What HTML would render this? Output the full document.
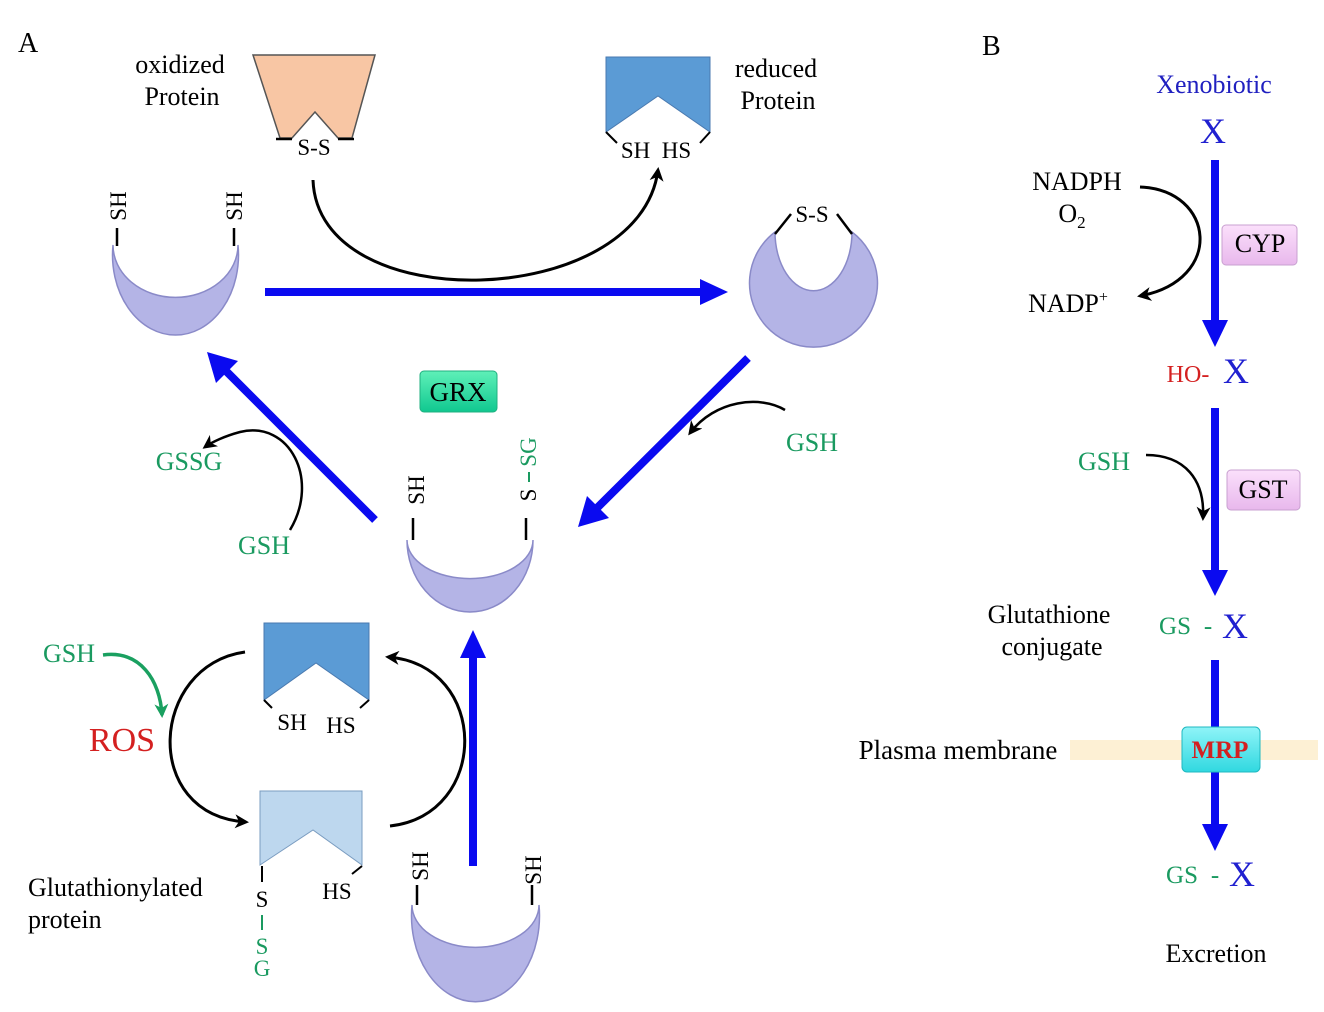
<!DOCTYPE html>
<html><head><meta charset="utf-8"><style>
html,body{margin:0;padding:0;background:#fff;}
svg{display:block;font-family:"Liberation Serif",serif;}
</style></head><body>
<svg width="1324" height="1012" viewBox="0 0 1324 1012" xmlns="http://www.w3.org/2000/svg">
<defs>
<marker id="ab" markerWidth="14" markerHeight="14" refX="11" refY="7" orient="auto" markerUnits="userSpaceOnUse"><path d="M0,0 L14,7 L0,14 L4,7 z" fill="#000"/></marker>
<marker id="ag" markerWidth="14" markerHeight="14" refX="11" refY="7" orient="auto" markerUnits="userSpaceOnUse"><path d="M0,0 L14,7 L0,14 L4,7 z" fill="#1aa060"/></marker>
<linearGradient id="grx" x1="0" y1="0" x2="0" y2="1"><stop offset="0" stop-color="#5ff0b8"/><stop offset="1" stop-color="#10c890"/></linearGradient>
<linearGradient id="pk" x1="0" y1="0" x2="0" y2="1"><stop offset="0" stop-color="#fbe0fb"/><stop offset="1" stop-color="#e8b8ec"/></linearGradient>
<linearGradient id="cy" x1="0" y1="0" x2="0" y2="1"><stop offset="0" stop-color="#8ff4f8"/><stop offset="1" stop-color="#30d8e0"/></linearGradient>
</defs>
<text x="18" y="52" font-size="28">A</text>
<text x="982" y="55" font-size="28">B</text>

<!-- oxidized protein -->
<text x="180" y="73" font-size="26" text-anchor="middle">oxidized</text>
<text x="182" y="105" font-size="26" text-anchor="middle">Protein</text>
<path d="M253,55 L375,55 L352,138 L338,138 L315,112 L292,138 L280,138 Z" fill="#f8c6a4" stroke="#555" stroke-width="1.5"/>
<line x1="276" y1="139" x2="292" y2="139" stroke="#000" stroke-width="2.5"/>
<line x1="338" y1="139" x2="354" y2="139" stroke="#000" stroke-width="2.5"/>
<text x="314" y="155" font-size="23" text-anchor="middle">S-S</text>

<!-- reduced protein -->
<path d="M606,57 L710,57 L710,132 L658,96 L606,132 Z" fill="#5b9bd5" stroke="#4a7ab0" stroke-width="1"/>
<line x1="606" y1="132" x2="617" y2="143" stroke="#000" stroke-width="2"/>
<line x1="710" y1="132" x2="700" y2="143" stroke="#000" stroke-width="2"/>
<text x="656" y="158" font-size="23" text-anchor="middle">SH&#160;&#160;HS</text>
<text x="776" y="77" font-size="26" text-anchor="middle">reduced</text>
<text x="778" y="109" font-size="26" text-anchor="middle">Protein</text>

<!-- black arc top -->
<path d="M313,180 C318,320 640,310 658,170" fill="none" stroke="#000" stroke-width="3" marker-end="url(#ab)"/>

<!-- left crescent -->
<path d="M113,245 A63 80 0 1 0 238,245 A62 52 0 0 1 113,245 Z" fill="#b4b4e6" stroke="#8a8ac8" stroke-width="1.5"/>
<line x1="117" y1="228" x2="117" y2="246" stroke="#000" stroke-width="2.5"/>
<line x1="234" y1="228" x2="234" y2="246" stroke="#000" stroke-width="2.5"/>
<text transform="translate(126,206) rotate(-90)" font-size="23" text-anchor="middle">SH</text>
<text transform="translate(242,206) rotate(-90)" font-size="23" text-anchor="middle">SH</text>

<!-- right crescent -->
<path d="M775,232 A64 64 0 1 0 852,232 A38 58 0 0 1 775,232 Z" fill="#b4b4e6" stroke="#8a8ac8" stroke-width="1.5"/>
<line x1="775" y1="234" x2="791" y2="214" stroke="#000" stroke-width="2.5"/>
<line x1="852" y1="234" x2="837" y2="214" stroke="#000" stroke-width="2.5"/>
<text x="812" y="222" font-size="23" text-anchor="middle">S-S</text>

<!-- blue arrows panel A -->
<line x1="265" y1="292" x2="705" y2="292" stroke="#0a0af0" stroke-width="8"/>
<path d="M700,279 L728,292 L700,305 Z" fill="#0a0af0"/>
<line x1="748" y1="358" x2="595" y2="510" stroke="#0a0af0" stroke-width="8"/>
<path d="M578,527 L587,496 L609,518 Z" fill="#0a0af0"/>
<line x1="375" y1="520" x2="225" y2="370" stroke="#0a0af0" stroke-width="8"/>
<path d="M207,352 L238,361 L216,383 Z" fill="#0a0af0"/>
<line x1="473" y1="866" x2="473" y2="655" stroke="#0a0af0" stroke-width="8"/>
<path d="M460,658 L473,630 L486,658 Z" fill="#0a0af0"/>

<!-- GRX -->
<rect x="420" y="371" width="77" height="41" rx="4" fill="url(#grx)" stroke="#20b080" stroke-width="1"/>
<text x="458" y="401" font-size="27" text-anchor="middle">GRX</text>

<!-- GSH right -->
<path d="M785,410 C760,395 715,400 690,433" fill="none" stroke="#000" stroke-width="2.5" marker-end="url(#ab)"/>
<text x="812" y="451" font-size="26" fill="#1a9a60" text-anchor="middle">GSH</text>
<!-- GSSG -->
<path d="M290,530 C320,480 290,420 240,432 C225,436 212,442 205,447" fill="none" stroke="#000" stroke-width="2.5" marker-end="url(#ab)"/>
<text x="189" y="470" font-size="26" fill="#1a9a60" text-anchor="middle">GSSG</text>
<text x="264" y="554" font-size="26" fill="#1a9a60" text-anchor="middle">GSH</text>

<!-- middle crescent -->
<path d="M407,540 A63 72 0 1 0 533,540 A62 38 0 0 1 407,540 Z" fill="#b4b4e6" stroke="#8a8ac8" stroke-width="1.5"/>
<line x1="413" y1="518" x2="413" y2="540" stroke="#000" stroke-width="2.5"/>
<line x1="526" y1="518" x2="526" y2="540" stroke="#000" stroke-width="2.5"/>
<text transform="translate(424,490) rotate(-90)" font-size="23" text-anchor="middle">SH</text>
<text transform="translate(536,495) rotate(-90)" font-size="23" text-anchor="middle">S</text>
<line x1="529" y1="482" x2="529" y2="472" stroke="#1a9a60" stroke-width="2"/>
<text transform="translate(536,452) rotate(-90)" font-size="23" fill="#1a9a60" text-anchor="middle">SG</text>

<!-- lower proteins -->
<path d="M264,623 L369,623 L369,700 L316,663 L264,700 Z" fill="#5b9bd5" stroke="#4a7ab0" stroke-width="1"/>
<line x1="264" y1="700" x2="272" y2="708" stroke="#000" stroke-width="2"/>
<line x1="369" y1="700" x2="360" y2="708" stroke="#000" stroke-width="2"/>
<text x="292" y="730" font-size="23" text-anchor="middle">SH</text>
<text x="341" y="733" font-size="23" text-anchor="middle">HS</text>

<path d="M260,791 L362,791 L362,865 L313,830 L260,865 Z" fill="#bdd7ee" stroke="#7a9cc0" stroke-width="1"/>
<line x1="262" y1="866" x2="262" y2="882" stroke="#000" stroke-width="2"/>
<line x1="362" y1="866" x2="352" y2="874" stroke="#000" stroke-width="2"/>
<text x="337" y="899" font-size="23" text-anchor="middle">HS</text>
<text x="262" y="907" font-size="23" text-anchor="middle">S</text>
<line x1="262" y1="915" x2="262" y2="930" stroke="#1a9a60" stroke-width="2"/>
<text x="262" y="954" font-size="23" fill="#1a9a60" text-anchor="middle">S</text>
<text x="262" y="976" font-size="23" fill="#1a9a60" text-anchor="middle">G</text>
<text x="28" y="896" font-size="26">Glutathionylated</text>
<text x="28" y="928" font-size="26">protein</text>

<!-- ROS cycle -->
<path d="M245,652 C150,665 140,815 246,822" fill="none" stroke="#000" stroke-width="3" marker-end="url(#ab)"/>
<path d="M390,826 C490,815 490,665 388,657" fill="none" stroke="#000" stroke-width="3" marker-end="url(#ab)"/>
<text x="122" y="751" font-size="34" fill="#d42020" text-anchor="middle">ROS</text>
<text x="69" y="662" font-size="26" fill="#1a9a60" text-anchor="middle">GSH</text>
<path d="M103,655 C140,650 160,680 162,715" fill="none" stroke="#1aa060" stroke-width="3.5" marker-end="url(#ag)"/>

<!-- bottom crescent -->
<path d="M412,905 A64 86 0 1 0 539,905 A63 42 0 0 1 412,905 Z" fill="#b4b4e6" stroke="#8a8ac8" stroke-width="1.5"/>
<line x1="417" y1="885" x2="417" y2="905" stroke="#000" stroke-width="2.5"/>
<line x1="532" y1="885" x2="532" y2="905" stroke="#000" stroke-width="2.5"/>
<text transform="translate(428,866) rotate(-90)" font-size="23" text-anchor="middle">SH</text>
<text transform="translate(541,870) rotate(-90)" font-size="23" text-anchor="middle">SH</text>

<!-- Panel B -->
<text x="1214" y="93" font-size="26" fill="#2020c0" text-anchor="middle">Xenobiotic</text>
<text x="1213" y="143" font-size="36" fill="#2020d0" text-anchor="middle">X</text>
<line x1="1215" y1="160" x2="1215" y2="322" stroke="#0a0af0" stroke-width="8"/>
<path d="M1202,320 L1228,320 L1215,347 Z" fill="#0a0af0"/>
<text x="1077" y="190" font-size="26" text-anchor="middle">NADPH</text>
<text x="1072" y="222" font-size="26" text-anchor="middle">O<tspan font-size="17" dy="6">2</tspan></text>
<text x="1068" y="312" font-size="26" text-anchor="middle">NADP<tspan font-size="16" dy="-10">+</tspan></text>
<path d="M1140,187 C1215,190 1225,280 1140,296" fill="none" stroke="#000" stroke-width="3" marker-end="url(#ab)"/>
<rect x="1222" y="225" width="75" height="40" rx="4" fill="url(#pk)" stroke="#c8a0d0" stroke-width="1"/>
<text x="1260" y="252" font-size="26" text-anchor="middle">CYP</text>

<text x="1188" y="382" font-size="24" fill="#d42020" text-anchor="middle">HO-</text>
<text x="1236" y="383" font-size="36" fill="#2020d0" text-anchor="middle">X</text>
<line x1="1215" y1="408" x2="1215" y2="572" stroke="#0a0af0" stroke-width="8"/>
<path d="M1202,570 L1228,570 L1215,596 Z" fill="#0a0af0"/>
<text x="1104" y="470" font-size="26" fill="#1a9a60" text-anchor="middle">GSH</text>
<path d="M1146,455 C1185,455 1205,480 1203,518" fill="none" stroke="#000" stroke-width="2.5" marker-end="url(#ab)"/>
<rect x="1227" y="470" width="73" height="40" rx="4" fill="url(#pk)" stroke="#c8a0d0" stroke-width="1"/>
<text x="1263" y="498" font-size="26" text-anchor="middle">GST</text>

<text x="1049" y="623" font-size="26" text-anchor="middle">Glutathione</text>
<text x="1052" y="655" font-size="26" text-anchor="middle">conjugate</text>
<text x="1175" y="634" font-size="25" fill="#1a9a60" text-anchor="middle">GS</text>
<text x="1208" y="634" font-size="25" fill="#1a9a60" text-anchor="middle">-</text>
<text x="1235" y="638" font-size="36" fill="#2020d0" text-anchor="middle">X</text>

<rect x="1070" y="740" width="248" height="20" fill="#fdf0d4"/>
<text x="958" y="759" font-size="27" text-anchor="middle">Plasma membrane</text>
<line x1="1215" y1="660" x2="1215" y2="826" stroke="#0a0af0" stroke-width="8"/>
<path d="M1202,824 L1228,824 L1215,851 Z" fill="#0a0af0"/>
<rect x="1182" y="727" width="78" height="45" rx="5" fill="url(#cy)" stroke="#20b8c0" stroke-width="1"/>
<text x="1220" y="758" font-size="25" font-weight="bold" fill="#d42020" text-anchor="middle">MRP</text>

<text x="1182" y="883" font-size="25" fill="#1a9a60" text-anchor="middle">GS</text>
<text x="1215" y="883" font-size="25" fill="#1a9a60" text-anchor="middle">-</text>
<text x="1242" y="886" font-size="36" fill="#2020d0" text-anchor="middle">X</text>
<text x="1216" y="962" font-size="26" text-anchor="middle">Excretion</text>
</svg>
</body></html>
